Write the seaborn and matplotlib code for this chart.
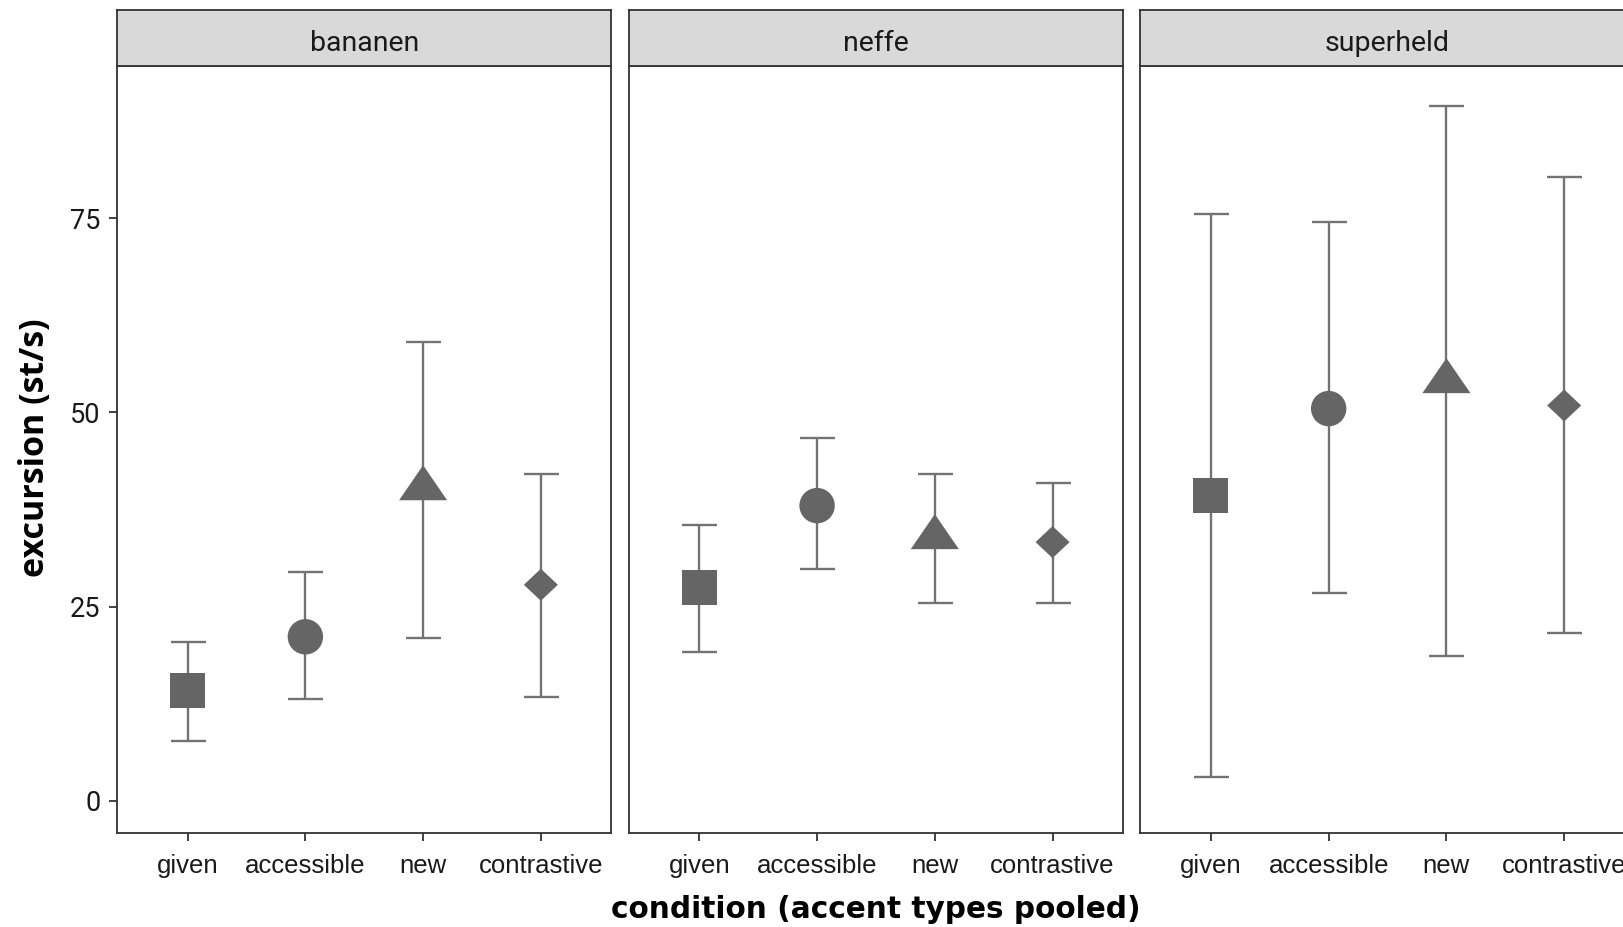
import numpy as np
import pandas as pd
import matplotlib
matplotlib.use("Agg")
import matplotlib.pyplot as plt
from matplotlib.path import Path
import seaborn as sns

# ---- data ----
words = ["bananen", "neffe", "superheld"]
conditions = ["given", "accessible", "new", "contrastive"]
means_bananen = [14.2, 21.1, 40.2, 27.8]
lower_bananen = [7.7, 13.1, 21.0, 13.4]
upper_bananen = [20.4, 29.5, 59.1, 42.1]
means_neffe = [27.4, 38.0, 33.9, 33.3]
lower_neffe = [19.1, 29.8, 25.5, 25.5]
upper_neffe = [35.5, 46.7, 42.1, 40.9]
means_superheld = [39.3, 50.5, 54.0, 50.9]
lower_superheld = [3.0, 26.8, 18.6, 21.6]
upper_superheld = [75.6, 74.6, 89.5, 80.4]
y_ticks = [0, 25, 50, 75]

rows = []
for w, m, lo, up in [("bananen", means_bananen, lower_bananen, upper_bananen),
                     ("neffe", means_neffe, lower_neffe, upper_neffe),
                     ("superheld", means_superheld, lower_superheld, upper_superheld)]:
    for c, mm, l, u in zip(conditions, m, lo, up):
        rows.append(dict(word=w, condition=c, mean=mm, lower=l, upper=u))
df = pd.DataFrame(rows)

sns.set_theme(style="white")
plt.rcParams["font.family"] = ["Liberation Sans", "DejaVu Sans"]

W, H = 1624, 927
fig = plt.figure(figsize=(W / 100, H / 100), dpi=100)

DARK = "#333333"
MARK = "#656565"
BAR = "#737373"

tri = Path([(0, 23.3), (24, -11.7), (-24, -11.7), (0, 23.3)],
           [Path.MOVETO, Path.LINETO, Path.LINETO, Path.CLOSEPOLY])
dia = Path([(0, 16), (17, 0), (0, -16), (-17, 0), (0, 16)],
           [Path.MOVETO, Path.LINETO, Path.LINETO, Path.LINETO, Path.CLOSEPOLY])
markers = {"given": "s", "accessible": "o", "new": tri, "contrastive": dia}
sizes = {"given": 25.2 ** 2, "accessible": 25.5 ** 2, "new": 34.6 ** 2, "contrastive": 24.5 ** 2}

lefts_px = [117, 628.7, 1140.3]
panel_w = 494.5
top_px, bottom_px, strip_top_px = 66.3, 832.7, 10.4

for i, w in enumerate(words):
    l = lefts_px[i] / W
    b = (H - bottom_px) / H
    h = (bottom_px - top_px) / H
    ax = fig.add_axes([l, b, panel_w / W, h])
    sub = df[df.word == w]
    ax.errorbar(sub["condition"], sub["mean"],
                yerr=[sub["mean"] - sub["lower"], sub["upper"] - sub["mean"]],
                fmt="none", ecolor=BAR, elinewidth=1.7, capsize=12.6, capthick=1.7, zorder=2)
    sns.scatterplot(data=sub, x="condition", y="mean", style="condition", size="condition",
                    markers=markers, sizes=sizes, style_order=conditions, size_order=conditions,
                    color=MARK, edgecolor="none", linewidth=0, legend=False, ax=ax, zorder=3)
    ax.set_xlim(-0.6, 3.6)
    ax.set_ylim(-4.14, 94.6)
    ax.set_xlabel("")
    ax.set_ylabel("")
    ax.set_facecolor("white")
    for s in ax.spines.values():
        s.set_visible(True)
        s.set_color(DARK)
        s.set_linewidth(1.3)
    ax.tick_params(axis="x", which="both", bottom=True, length=6, width=1.3, color=DARK,
                   labelsize=18.5, labelcolor="#1a1a1a", pad=9.5)
    ax.set_yticks(y_ticks)
    if i == 0:
        ax.tick_params(axis="y", left=True, length=6, width=1.3, color=DARK,
                       labelsize=19.5, labelcolor="#1a1a1a", pad=6)
        for t in ax.get_yticklabels():
            t.set_family(["Liberation Sans Narrow", "Roboto", "DejaVu Sans"])
    else:
        ax.tick_params(axis="y", left=False, labelleft=False)
    ax.grid(False)

    # strip
    sax = fig.add_axes([l, (H - top_px) / H, panel_w / W, (top_px - strip_top_px) / H])
    sax.set_facecolor("#d9d9d9")
    sax.set_xticks([])
    sax.set_yticks([])
    for s in sax.spines.values():
        s.set_visible(True)
        s.set_color(DARK)
        s.set_linewidth(1.3)
    sax.text(0.5, 0.40, w, ha="center", va="center", fontsize=20.5, color="#1a1a1a",
             family=["Roboto", "DejaVu Sans"], transform=sax.transAxes)

fig.text(876 / W, (H - 909) / H, "condition (accent types pooled)", ha="center", va="center",
         fontsize=21.3, fontweight="bold", color="black", family=["DejaVu Sans"])
fig.text(35 / W, (H - 448) / H, "excursion (st/s)", ha="center", va="center", rotation=90,
         fontsize=24.5, fontweight="bold", color="black", family=["Open Sans", "DejaVu Sans"])

fig.savefig("out.png", dpi=100)
